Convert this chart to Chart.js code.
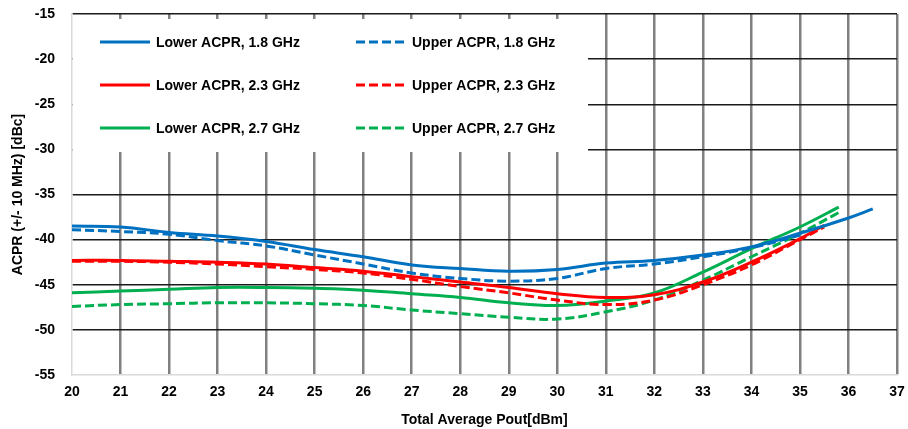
<!DOCTYPE html>
<html>
<head>
<meta charset="utf-8">
<script src="https://cdn.jsdelivr.net/npm/chart.js@4/dist/chart.umd.min.js"></script>
<style>
  html, body { margin: 0; padding: 0; background: #fff; }
  #wrap { width: 908px; height: 429px; }
</style>
</head>
<body>
<div id="wrap"><canvas id="myChart"></canvas></div>
<script>
// x values (Total Average Pout, dBm) per series
const pout18Lower = [20, 21, 22, 23, 24, 25, 26, 27, 28, 29, 30, 31, 32, 33, 34, 35, 36, 36.5];
const pout18Upper = [20, 21, 22, 23, 24, 25, 26, 27, 28, 29, 30, 31, 32, 33, 34, 35];
const pout23 = [20, 21, 22, 23, 24, 25, 26, 27, 28, 29, 30, 31, 32, 33, 34, 35, 35.5];
const pout27 = [20, 21, 22, 23, 24, 25, 26, 27, 28, 29, 30, 31, 32, 33, 34, 35, 35.8];

// ACPR values (dBc)
const lower18 = [-38.5, -38.6, -39.2, -39.6, -40.2, -41.1, -41.9, -42.8, -43.2, -43.5, -43.3, -42.6, -42.3, -41.7, -40.8, -39.3, -37.6, -36.6];
const upper18 = [-38.9, -39.1, -39.4, -40.1, -40.7, -41.7, -42.7, -43.7, -44.3, -44.6, -44.3, -43.2, -42.7, -41.9, -40.9, -39.5];
const lower23 = [-42.3, -42.3, -42.4, -42.5, -42.7, -43.1, -43.5, -44.1, -44.7, -45.3, -46.0, -46.4, -46.1, -44.7, -42.5, -39.9, -38.4];
const upper23 = [-42.4, -42.4, -42.5, -42.7, -43.0, -43.3, -43.7, -44.4, -45.2, -45.9, -46.7, -47.2, -46.7, -45.0, -42.8, -40.0, -38.6];
const lower27 = [-45.9, -45.7, -45.5, -45.3, -45.3, -45.4, -45.6, -46.0, -46.4, -47.0, -47.3, -46.8, -45.9, -43.6, -41.0, -38.6, -36.4];
const upper27 = [-47.4, -47.2, -47.1, -47.0, -47.0, -47.1, -47.3, -47.8, -48.2, -48.6, -48.8, -48.0, -46.7, -44.5, -41.9, -39.3, -37.0];

const seriesNames = ['Lower ACPR, 1.8 GHz', 'Upper ACPR, 1.8 GHz', 'Lower ACPR, 2.3 GHz',
                     'Upper ACPR, 2.3 GHz', 'Lower ACPR, 2.7 GHz', 'Upper ACPR, 2.7 GHz'];

const BLUE = '#0070C0', RED = '#FF0000', GREEN = '#00B050';
const FONT = "'Liberation Sans', Arial, sans-serif";
const DASH = [9, 4];

function pts(xs, ys) { return xs.map((x, i) => ({ x: x, y: ys[i] })); }

function ds(label, xs, ys, color, dashed) {
  return {
    label: label,
    data: pts(xs, ys),
    borderColor: color,
    backgroundColor: color,
    borderWidth: 3,
    borderDash: dashed ? DASH : [],
    pointRadius: 0,
    tension: 0.4,
    fill: false
  };
}

// white legend box sitting inside the plot, two columns
const legendBox = {
  id: 'legendBox',
  beforeDatasetsDraw(chart) {
    const { ctx, chartArea: a } = chart;
    ctx.save();
    ctx.fillStyle = '#fff';
    ctx.fillRect(a.left + 1, a.top + 5, 515, 133);
    ctx.font = 'bold 14px ' + FONT;
    ctx.textBaseline = 'middle';
    ctx.fillStyle = '#000';
    chart.data.datasets.forEach((d, i) => {
      const col = i % 2, row = Math.floor(i / 2);
      const x0 = a.left + 28 + col * 256;
      const y = a.top + 28 + row * 43;
      ctx.strokeStyle = d.borderColor;
      ctx.lineWidth = 3;
      ctx.setLineDash(d.borderDash);
      ctx.beginPath();
      ctx.moveTo(x0, y);
      ctx.lineTo(x0 + 50, y);
      ctx.stroke();
      ctx.setLineDash([]);
      ctx.fillText(d.label, x0 + 56, y + 1);
    });
    ctx.restore();
  }
};

new Chart(document.getElementById('myChart').getContext('2d'), {
  type: 'line',
  data: {
    datasets: [
      ds(seriesNames[0], pout18Lower, lower18, BLUE, false),
      ds(seriesNames[1], pout18Upper, upper18, BLUE, true),
      ds(seriesNames[2], pout23, lower23, RED, false),
      ds(seriesNames[3], pout23, upper23, RED, true),
      ds(seriesNames[4], pout27, lower27, GREEN, false),
      ds(seriesNames[5], pout27, upper27, GREEN, true)
    ]
  },
  options: {
    responsive: true,
    maintainAspectRatio: false,
    animation: false,
    layout: { padding: { top: 14, right: 11, left: 0, bottom: 0 } },
    plugins: {
      legend: { display: false },
      tooltip: { enabled: false }
    },
    scales: {
      x: {
        type: 'linear',
        min: 20,
        max: 37,
        afterFit: (s) => { s.height = 54; s.paddingLeft = 0; s.paddingRight = 0; },
        ticks: {
          stepSize: 1,
          autoSkip: false,
          maxRotation: 0,
          padding: 9,
          color: '#000',
          font: { family: FONT, size: 14, weight: 'bold' }
        },
        grid: {
          drawTicks: false,
          lineWidth: 2.5,
          color: (c) => (c.tick && c.tick.value === 20) ? 'rgba(0,0,0,0)' : '#808080'
        },
        border: { color: '#D9D9D9', width: 1.5 },
        title: {
          display: true,
          text: 'Total Average Pout[dBm]',
          color: '#000',
          font: { family: FONT, size: 14, weight: 'bold' },
          padding: { top: 2, bottom: 0 }
        }
      },
      y: {
        min: -55,
        max: -15,
        afterFit: (s) => { s.width = 72; s.paddingTop = 0; s.paddingBottom = 0; },
        ticks: {
          stepSize: 5,
          padding: 17,
          color: '#000',
          font: { family: FONT, size: 14, weight: 'bold' }
        },
        grid: {
          drawTicks: false,
          lineWidth: 1.5,
          color: (c) => (c.tick && c.tick.value === -55) ? 'rgba(0,0,0,0)' : '#1a1a1a'
        },
        border: { color: '#D9D9D9', width: 1.5 },
        title: {
          display: true,
          text: 'ACPR (+/- 10 MHz) [dBc]',
          color: '#000',
          font: { family: FONT, size: 14, weight: 'bold' },
          padding: { top: 10, bottom: 0 }
        }
      }
    }
  },
  plugins: [legendBox]
});
</script>
</body>
</html>
